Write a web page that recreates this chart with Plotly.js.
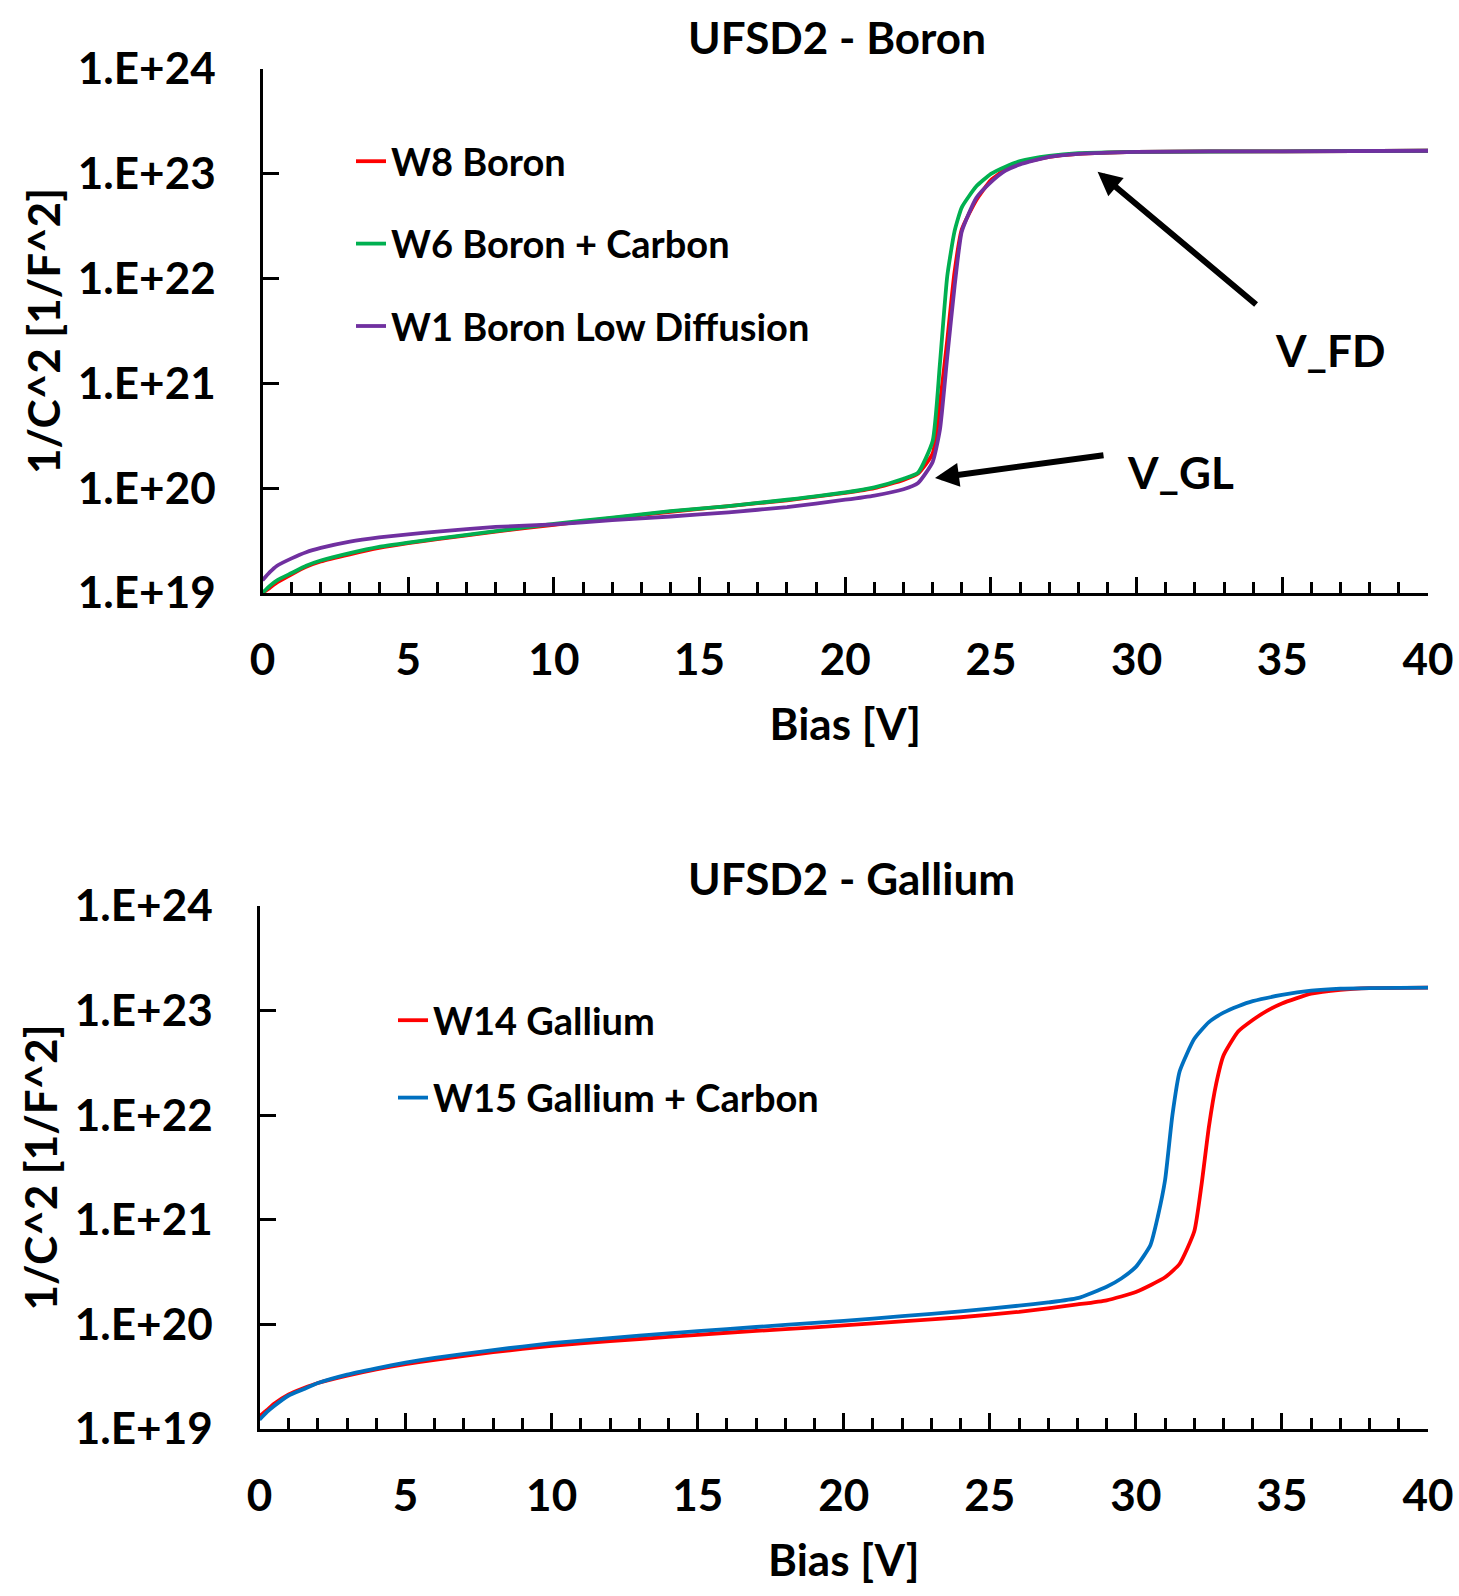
<!DOCTYPE html>
<html><head><meta charset="utf-8">
<script src="https://cdn.plot.ly/plotly-3.0.1.min.js"></script>
<style>html,body{margin:0;padding:0;background:#fff}</style>
</head><body><div id="chart" style="width:1459px;height:1596px"></div>
<script>
// ---- Data ----
const boronBias = [0,0.25,0.5,1,1.5,2,3,4,5,6,8,10,12,14,16,18,20,21,22,22.5,23,23.25,23.5,23.75,24,24.5,25,25.5,26,27,28,30,35,40];
const w8Boron = [1.00e19,1.12e19,1.26e19,1.51e19,1.78e19,2.00e19,2.34e19,2.69e19,2.99e19,3.27e19,3.85e19,4.47e19,5.19e19,5.96e19,6.76e19,7.67e19,9.02e19,1.00e20,1.20e20,1.38e20,2.14e20,6.46e20,2.57e21,1.15e22,2.95e22,5.62e22,8.71e22,1.10e23,1.26e23,1.45e23,1.55e23,1.62e23,1.64e23,1.66e23];
const w6BoronCarbon = [1.00e19,1.17e19,1.32e19,1.55e19,1.82e19,2.04e19,2.40e19,2.75e19,3.02e19,3.31e19,3.89e19,4.57e19,5.25e19,6.03e19,6.76e19,7.76e19,9.12e19,1.02e20,1.23e20,1.41e20,2.82e20,1.55e21,1.05e22,2.82e22,4.79e22,7.59e22,1.00e23,1.17e23,1.32e23,1.48e23,1.57e23,1.62e23,1.64e23,1.66e23];
const w1BoronLowDiff = [1.32e19,1.58e19,1.82e19,2.14e19,2.45e19,2.69e19,3.09e19,3.39e19,3.63e19,3.85e19,4.27e19,4.52e19,4.95e19,5.37e19,5.89e19,6.61e19,7.76e19,8.51e19,9.77e19,1.12e20,1.78e20,3.63e20,1.78e21,8.32e21,2.82e22,5.89e22,8.32e22,1.07e23,1.23e23,1.45e23,1.55e23,1.62e23,1.64e23,1.66e23];

const w14Bias = [0,0.25,0.5,1,1.5,2,3,4,5,6,8,10,12,14,16,18,20,22,24,26,28,29,30,31,31.5,32,32.25,32.5,32.75,33,33.5,34,34.5,35,36,37,38,40];
const w14Gallium = [1.32e19,1.51e19,1.74e19,2.14e19,2.45e19,2.75e19,3.24e19,3.72e19,4.17e19,4.57e19,5.43e19,6.24e19,6.92e19,7.59e19,8.32e19,9.02e19,9.77e19,1.07e20,1.17e20,1.32e20,1.55e20,1.70e20,2.04e20,2.82e20,3.80e20,7.76e20,2.19e21,7.76e21,2.00e22,3.72e22,6.31e22,8.13e22,1.00e23,1.17e23,1.45e23,1.58e23,1.64e23,1.66e23];
const w15Bias = [0,0.25,0.5,1,1.5,2,3,4,5,6,8,10,12,14,16,18,20,22,24,26,27,28,29,29.5,30,30.5,30.75,31,31.25,31.5,32,32.5,33,33.5,34,35,36,37,38,40];
const w15GalliumCarbon = [1.23e19,1.45e19,1.66e19,2.09e19,2.40e19,2.75e19,3.31e19,3.80e19,4.32e19,4.79e19,5.69e19,6.61e19,7.41e19,8.22e19,9.02e19,9.89e19,1.08e20,1.20e20,1.33e20,1.51e20,1.62e20,1.78e20,2.29e20,2.75e20,3.55e20,5.75e20,1.07e21,2.40e21,1.00e22,2.63e22,5.37e22,7.76e22,9.55e22,1.10e23,1.23e23,1.41e23,1.55e23,1.62e23,1.64e23,1.66e23];

const yTickVals = [1e19,1e20,1e21,1e22,1e23,1e24];
const yTickText = ['1.E+19','1.E+20','1.E+21','1.E+22','1.E+23','1.E+24'];

// ---- Styling ----
const FONT = 'Lato, "Open Sans", sans-serif';
const W = 1459, H = 1596;
const tickFont = {family: FONT, size: 44, color: '#000', weight: 700};
const titleFont = {family: FONT, size: 44, color: '#000', weight: 700};
const legendFont = {family: FONT, size: 38, color: '#000', weight: 700};

function xAxis(domain, anchor) {
  return {
    domain: domain, anchor: anchor, range: [0, 40], tick0: 0, dtick: 5,
    ticks: 'inside', ticklen: 16, tickwidth: 3, tickcolor: '#000',
    minor: {dtick: 1, ticks: 'inside', ticklen: 11, tickwidth: 3, tickcolor: '#000', showgrid: false},
    showline: true, linewidth: 3, linecolor: '#000', showgrid: false, zeroline: false,
    tickfont: tickFont, ticklabelstandoff: 26,
    title: {text: 'Bias [V]', font: titleFont, standoff: 27}
  };
}
function yAxis(domain, anchor) {
  return {
    domain: domain, anchor: anchor, type: 'log', range: [19, 24],
    tickmode: 'array', tickvals: yTickVals, ticktext: yTickText,
    ticks: 'inside', ticklen: 16, tickwidth: 3, tickcolor: '#000',
    showline: true, linewidth: 3, linecolor: '#000', showgrid: false, zeroline: false,
    tickfont: tickFont, ticklabelstandoff: 35,
    title: {text: '1/C^2 [1/F^2]', font: titleFont, standoff: 4}
  };
}

const lw = 3.8;
const traces = [
  {x: boronBias, y: w8Boron, name: 'W8 Boron', xaxis: 'x', yaxis: 'y', legend: 'legend', legendgroup: 'a',
   mode: 'lines', line: {color: '#FF0000', width: lw, shape: 'spline', smoothing: 0.5}},
  {x: boronBias, y: w6BoronCarbon, name: 'W6 Boron + Carbon', xaxis: 'x', yaxis: 'y', legend: 'legend', legendgroup: 'b',
   mode: 'lines', line: {color: '#00B050', width: lw, shape: 'spline', smoothing: 0.5}},
  {x: boronBias, y: w1BoronLowDiff, name: 'W1 Boron Low Diffusion', xaxis: 'x', yaxis: 'y', legend: 'legend', legendgroup: 'c',
   mode: 'lines', line: {color: '#7030A0', width: lw, shape: 'spline', smoothing: 0.5}},
  {x: w14Bias, y: w14Gallium, name: 'W14 Gallium', xaxis: 'x2', yaxis: 'y2', legend: 'legend2', legendgroup: 'd',
   mode: 'lines', line: {color: '#FF0000', width: lw, shape: 'spline', smoothing: 0.5}},
  {x: w15Bias, y: w15GalliumCarbon, name: 'W15 Gallium + Carbon', xaxis: 'x2', yaxis: 'y2', legend: 'legend2', legendgroup: 'e',
   mode: 'lines', line: {color: '#0070C0', width: lw, shape: 'spline', smoothing: 0.5}}
];

const arrowStyle = {showarrow: true, arrowhead: 2, arrowsize: 0.8, arrowwidth: 6, arrowcolor: '#000', standoff: 0, text: ''};

const layout = {
  width: W, height: H,
  margin: {l: 0, r: 0, t: 0, b: 0},
  paper_bgcolor: '#fff', plot_bgcolor: '#fff',
  showlegend: true,
  title: {text: 'UFSD2 - Boron', font: titleFont, x: 837 / W, xanchor: 'center', xref: 'paper', y: 1 - 39 / H, yanchor: 'middle', yref: 'paper'},
  xaxis: xAxis([262.5 / W, 1428 / W], 'y'),
  yaxis: yAxis([1 - 593 / H, 1 - 69 / H], 'x'),
  xaxis2: xAxis([259.5 / W, 1428 / W], 'y2'),
  yaxis2: yAxis([1 - 1429 / H, 1 - 906 / H], 'x2'),
  legend: {x: 351 / W, xanchor: 'left', y: 1 - 130 / H, yanchor: 'top', font: legendFont,
           bgcolor: 'rgba(0,0,0,0)', borderwidth: 0, tracegroupgap: 30},
  legend2: {x: 393 / W, xanchor: 'left', y: 1 - 989 / H, yanchor: 'top', font: legendFont,
            bgcolor: 'rgba(0,0,0,0)', borderwidth: 0, tracegroupgap: 25},
  annotations: [
    Object.assign({x: 28.66, y: 23.02, xref: 'x', yref: 'y', ax: 160, ay: 134}, arrowStyle),
    Object.assign({x: 23.08, y: 20.097, xref: 'x', yref: 'y', ax: 170, ay: -23}, arrowStyle),
    {x: 36.63, y: 21.32, xref: 'x', yref: 'y', text: 'V_FD', showarrow: false, font: titleFont, xanchor: 'center', yanchor: 'middle'},
    {x: 31.49, y: 20.155, xref: 'x', yref: 'y', text: 'V_GL', showarrow: false, font: titleFont, xanchor: 'center', yanchor: 'middle'},
    {x: 851 / W, y: 1 - 878 / H, xref: 'paper', yref: 'paper', text: 'UFSD2 - Gallium', showarrow: false, font: titleFont, xanchor: 'center', yanchor: 'middle'}
  ]
};

Plotly.newPlot('chart', traces, layout, {staticPlot: true, displayModeBar: false});
</script>
</body></html>
